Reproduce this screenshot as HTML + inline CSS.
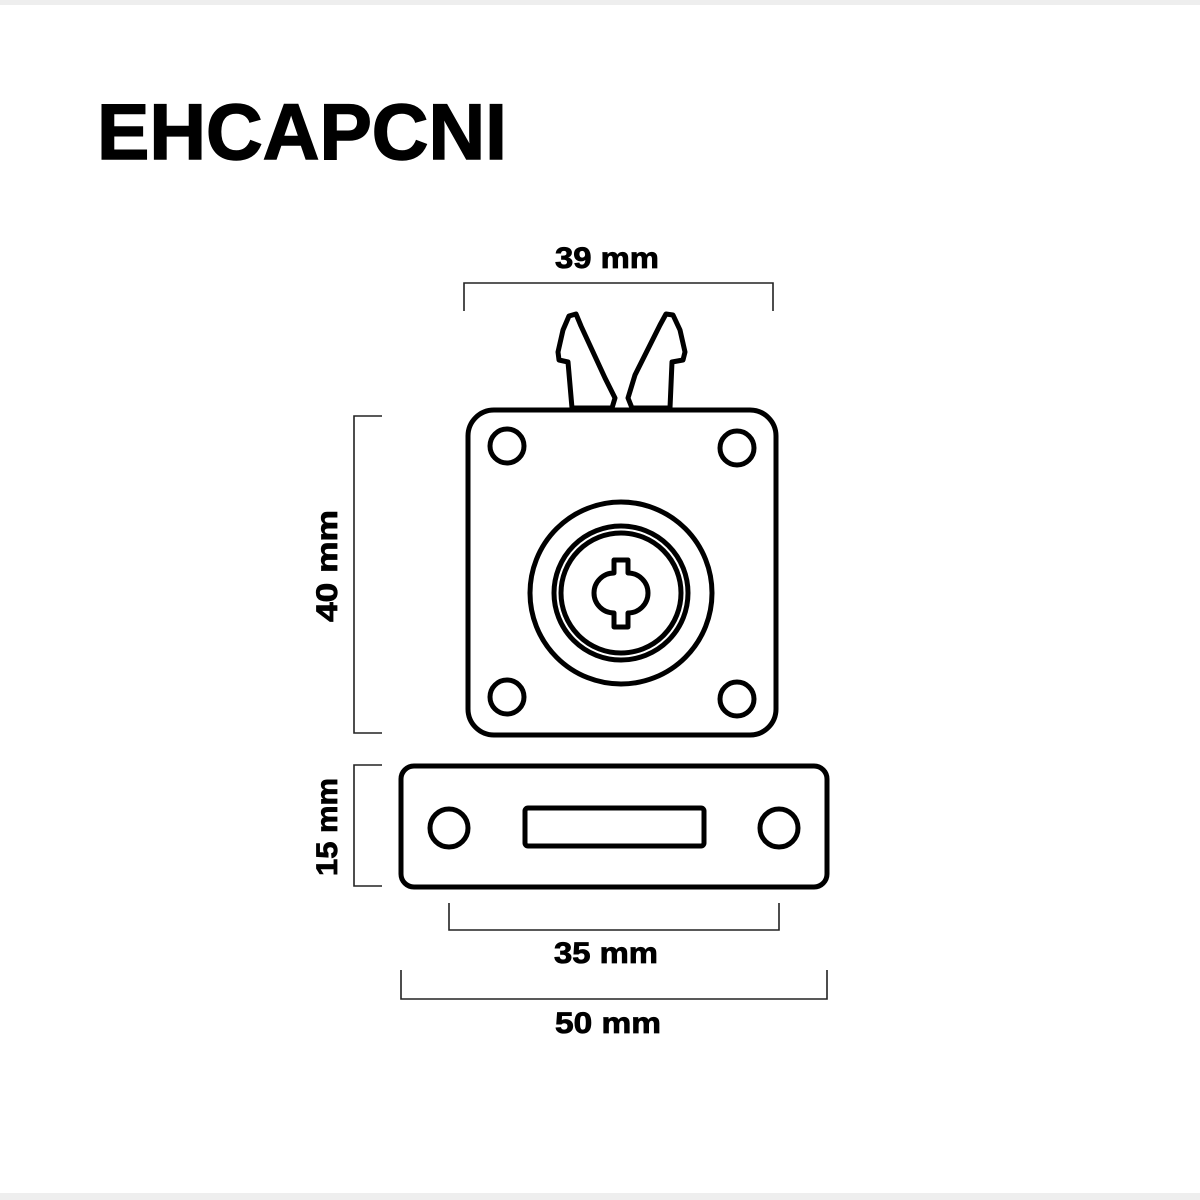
<!DOCTYPE html>
<html><head><style>
html,body{margin:0;padding:0;background:#fff;}
body{width:1200px;height:1200px;position:relative;overflow:hidden;font-family:"Liberation Sans",sans-serif;}
.band{position:absolute;left:0;width:1200px;background:#eee;}
</style></head><body>
<div class="band" style="top:0;height:5px"></div>
<div class="band" style="top:1193px;height:7px"></div>
<svg width="1200" height="1200" style="position:absolute;left:0;top:0" xmlns="http://www.w3.org/2000/svg">
<text x="97" y="159" font-family="Liberation Sans" font-weight="bold" font-size="79" fill="#000" stroke="#000" stroke-width="1.5" textLength="410" lengthAdjust="spacingAndGlyphs">EHCAPCNI</text>
<g font-family="Liberation Sans" font-weight="bold" font-size="30" fill="#000" stroke="#000" stroke-width="0.8" text-anchor="middle">
<text x="607" y="268" textLength="104" lengthAdjust="spacingAndGlyphs">39 mm</text>
<text x="606" y="963" textLength="104" lengthAdjust="spacingAndGlyphs">35 mm</text>
<text x="608" y="1033" textLength="106" lengthAdjust="spacingAndGlyphs">50 mm</text>
<text transform="translate(337,566) rotate(-90)" textLength="112" lengthAdjust="spacingAndGlyphs">40 mm</text>
<text transform="translate(337,827) rotate(-90)" textLength="98" lengthAdjust="spacingAndGlyphs">15 mm</text>
</g>
<g stroke="#222" stroke-width="1.6" fill="none">
<polyline points="464,311 464,283 773,283 773,311"/>
<polyline points="382,416 354,416 354,733 382,733"/>
<polyline points="382,765 354,765 354,886 382,886"/>
<polyline points="449,903 449,930 779,930 779,903"/>
<polyline points="401,970 401,999 827,999 827,970"/>
</g>
<g stroke="#000" stroke-width="5" fill="#fff" stroke-linejoin="round">
<polygon points="572,408 568,362 559,360 558,352 563,330 569,316 576,314 581,326 605,378 615,398 612,408"/>
<polygon points="670,408 672,362 683,360 685,352 680,330 673,315 666,314 660,325 635,375 628,398 632,408"/>
<rect x="468" y="410" width="308" height="325" rx="26"/>
<circle cx="507" cy="446" r="17"/>
<circle cx="737" cy="448" r="17"/>
<circle cx="507" cy="697" r="17"/>
<circle cx="737" cy="699" r="17"/>
<circle cx="621" cy="593" r="91"/>
<circle cx="621" cy="593" r="67"/>
<circle cx="621" cy="593" r="60"/>
<path d="M614,560 H628 V573 A20,20 0 0 1 628,613 V627 H614 V613 A20,20 0 0 1 614,573 Z"/>
<rect x="401" y="766" width="426" height="121" rx="13"/>
<circle cx="449" cy="828" r="19"/>
<circle cx="779" cy="828" r="19"/>
<rect x="525" y="808" width="179" height="38" rx="3"/>
</g>
</svg>
</body></html>
